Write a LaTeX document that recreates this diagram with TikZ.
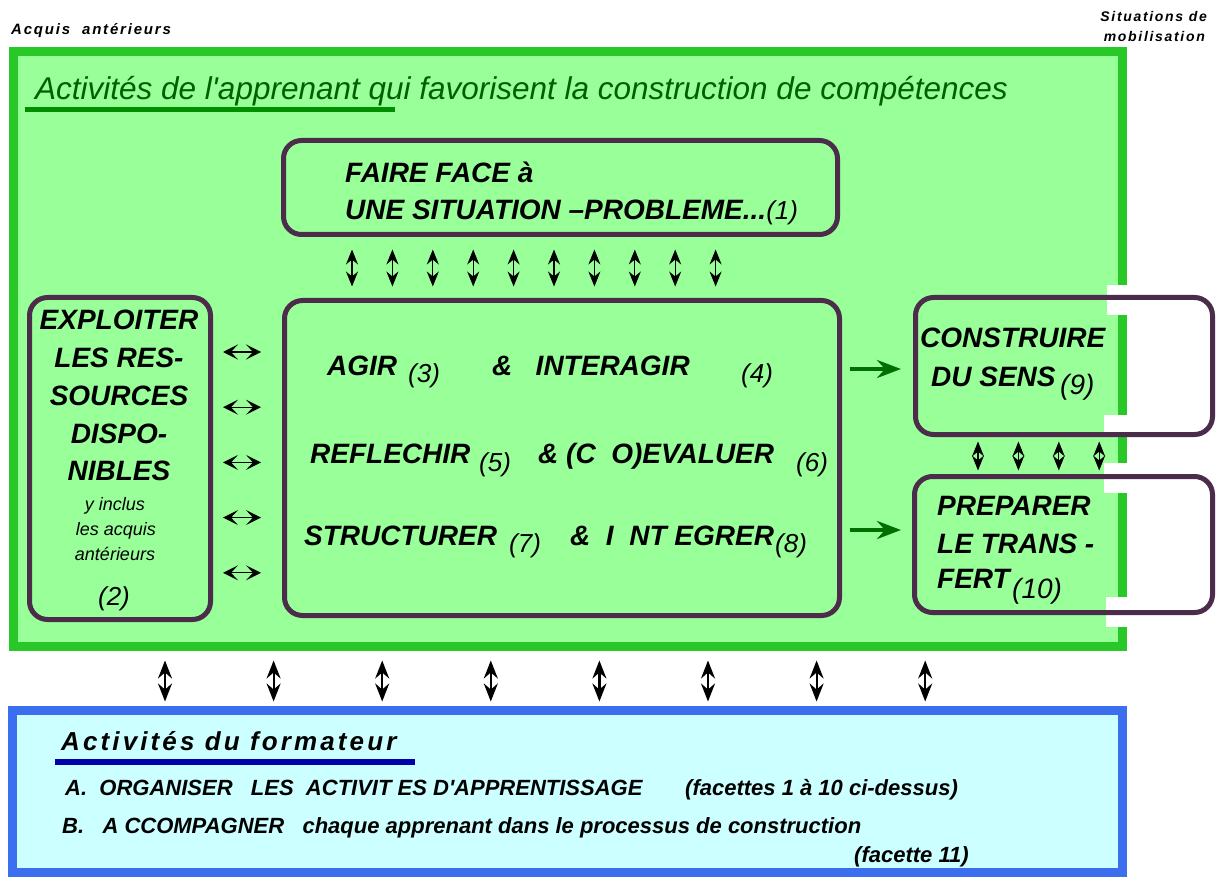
\documentclass[tikz,border=0pt]{standalone}
\usepackage{fontspec}
\setmainfont{Liberation Sans}
\newfontfamily\spaced[LetterSpace=12]{Liberation Sans}
\usetikzlibrary{arrows.meta,calc}
\definecolor{GreenFill}{RGB}{153,255,153}
\definecolor{GreenLine}{RGB}{40,200,40}
\definecolor{TitleClr}{RGB}{0,95,0}
\definecolor{FlowClr}{RGB}{0,110,0}
\definecolor{BoxLine}{RGB}{75,45,75}
\definecolor{BlueFill}{RGB}{204,255,255}
\definecolor{BlueLine}{RGB}{60,110,240}
\definecolor{BlueDark}{RGB}{0,0,170}
\newcommand\fsz[1]{\fontsize{#1}{#1}\selectfont}
\tikzset{
  outerbox/.style={draw=#1, line width=9pt, inner sep=0pt},
  box/.style={draw=BoxLine, line width=5pt, rounded corners=18pt, inner sep=0pt},
  lbl/.style={inner sep=0pt, anchor=base west, font=\bfseries\itshape\fsz{28}},
  num/.style={inner sep=0pt, anchor=base west, font=\itshape\fsz{26}},
  small/.style={inner sep=0pt, anchor=base, font=\itshape\fsz{18}},
  updown/.style={line width=1.2pt, {Stealth[length=15pt,width=12pt,inset=5pt]}-{Stealth[length=15pt,width=12pt,inset=5pt]}},
  leftright/.style={line width=1.2pt, {Stealth[length=15pt,width=15pt,inset=7pt]}-{Stealth[length=15pt,width=15pt,inset=7pt]}},
  bigupdown/.style={line width=2.2pt, {Stealth[length=18pt,width=14pt,inset=6pt]}-{Stealth[length=18pt,width=14pt,inset=6pt]}},
  flow/.style={line width=4.5pt, draw=FlowClr, -{Stealth[length=24pt,width=18pt,inset=8pt]}},
}

\begin{document}
\begin{tikzpicture}[x=1pt,y=-1pt]
\path[use as bounding box, fill=white] (0,0) rectangle (1216,877);

\node[outerbox=GreenLine, fill=GreenFill, minimum width=1109pt, minimum height=595pt] (appr) at (568,349) {};
\node[outerbox=BlueLine, fill=BlueFill, minimum width=1110pt, minimum height=162pt] (form) at (567.5,791.5) {};

\fill[white] (1107,285) rectangle (1127,315);
\fill[white] (1104,415) rectangle (1127,437);
\fill[white] (1104,463) rectangle (1127,493);
\fill[white] (1106,597) rectangle (1127,627);

\node[box, minimum width=554pt, minimum height=94pt] (face) at (560.5,187.5) {};
\node[box, minimum width=555pt, minimum height=315pt] (act) at (562,458) {};
\node[box, minimum width=181pt, minimum height=322pt] (res) at (120,458.5) {};
\node[box, minimum width=297pt, minimum height=137pt] (sens) at (1064,366) {};
\node[box, minimum width=298pt, minimum height=136pt] (transfert) at (1063.5,544.5) {};

\node[lbl, font=\spaced\bfseries\itshape\fsz{15}] (acquis) at (11,35) {Acquis\ \ antérieurs};
\node[lbl, anchor=base east, font=\spaced\bfseries\itshape\fsz{14}] (mob1) at (1207,22) {Situations de};
\node[lbl, anchor=base east, font=\spaced\bfseries\itshape\fsz{14}] (mob2) at (1205,42) {mobilisation};

\node[lbl, font=\itshape\fsz{31.5}, text=TitleClr] (titre) at (35,100) {Activités de l\textquotesingle apprenant qui favorisent la construction de compétences};
\draw[TitleClr!70!green, line width=5pt] (25,110) -- (395,110);

\node[lbl] (face1) at (345,183) {FAIRE FACE à};
\node[lbl] (face2) at (345,220) {UNE SITUATION --PROBLEME...{\mdseries\fsz{26}(1)}};

\foreach \t/\y [count=\i] in {EXPLOITER/330,LES RES-/368,SOURCES/405,DISPO-/443,NIBLES/480}
  \node[lbl, anchor=base] (res\i) at (119,\y) {\t};
\node[small] (incl1) at (115,510) {y inclus};
\node[small] (incl2) at (116,535) {les acquis};
\node[small] (incl3) at (115,560) {antérieurs};
\node[num, anchor=base] (n2) at (114,605) {(2)};

\node[lbl] (agir) at (327,375) {AGIR};
\node[num] (n3) at (408,382) {(3)};
\node[lbl] (inter) at (492,375) {\&\ \ \ INTERAGIR};
\node[num] (n4) at (741,382) {(4)};
\node[lbl] (refl) at (310,463) {REFLECHIR};
\node[num] (n5) at (479,471) {(5)};
\node[lbl] (eval) at (538,463) {\& (C\ \ O)EVALUER};
\node[num] (n6) at (796,471) {(6)};
\node[lbl] (struct) at (304,545) {STRUCTURER};
\node[num] (n7) at (509,552) {(7)};
\node[lbl] (integ) at (570,545) {\&\ \ I\ \ NT EGRER};
\node[num] (n8) at (775,552) {(8)};

\node[lbl] (sens1) at (920,348) {CONSTRUIRE};
\node[lbl] (sens2) at (931,386) {DU SENS};
\node[num, font=\itshape\fsz{28}] (n9) at (1060,394) {(9)};
\node[lbl] (tr1) at (937,515) {PREPARER};
\node[lbl] (tr2) at (937,553) {LE TRANS -};
\node[lbl] (tr3) at (937,588) {FERT};
\node[num, font=\itshape\fsz{28}] (n10) at (1012,598) {(10)};

\node[lbl, font=\spaced\bfseries\itshape\fsz{26}] (ftitre) at (61,750) {Activités du formateur};
\draw[BlueDark, line width=6pt] (55,762) -- (415,762);
\node[lbl, font=\bfseries\itshape\fsz{22}] (orgA) at (65,795) {A.\ \ ORGANISER\ \ \ LES\ \ ACTIVIT ES D\textquotesingle APPRENTISSAGE};
\node[lbl, font=\bfseries\itshape\fsz{22}] (orgA2) at (685,795) {(facettes 1 à 10 ci-dessus)};
\node[lbl, font=\bfseries\itshape\fsz{22}] (accB) at (62,833) {B.\ \ \ A CCOMPAGNER\ \ \ chaque apprenant dans le processus de construction};
\node[lbl, font=\bfseries\itshape\fsz{22}] (accB2) at (854,862) {(facette 11)};

\foreach \i in {0,...,9}
  \draw[updown] ($(face.south)+(-208.5+40.4*\i,12.5)$) -- ($(act.north)+(-210+40.4*\i,-11.5)$);
\foreach \i in {0,...,4}
  \draw[leftright] ($(res.east)+(10,-106.5+55.2*\i)$) -- ($(act.west)+(-21,-106+55.2*\i)$);
\foreach \i in {0,...,3}
  \draw[updown] ($(sens.south)+(-86+40.4*\i,4.5)$) -- ($(transfert.north)+(-85.5+40.4*\i,-3.5)$);
\draw[flow] ($(act.east)+(7.5,-89)$) -- ($(sens.west)+(-12,3)$);
\draw[flow] ($(act.east)+(7.5,72)$) -- ($(transfert.west)+(-11,-14.5)$);
\foreach \i in {0,...,7}
  \draw[bigupdown] ($(appr.south)+(-403+108.6*\i,9.5)$) -- ($(form.north)+(-402.5+108.6*\i,-4.5)$);

\end{tikzpicture}
\end{document}
